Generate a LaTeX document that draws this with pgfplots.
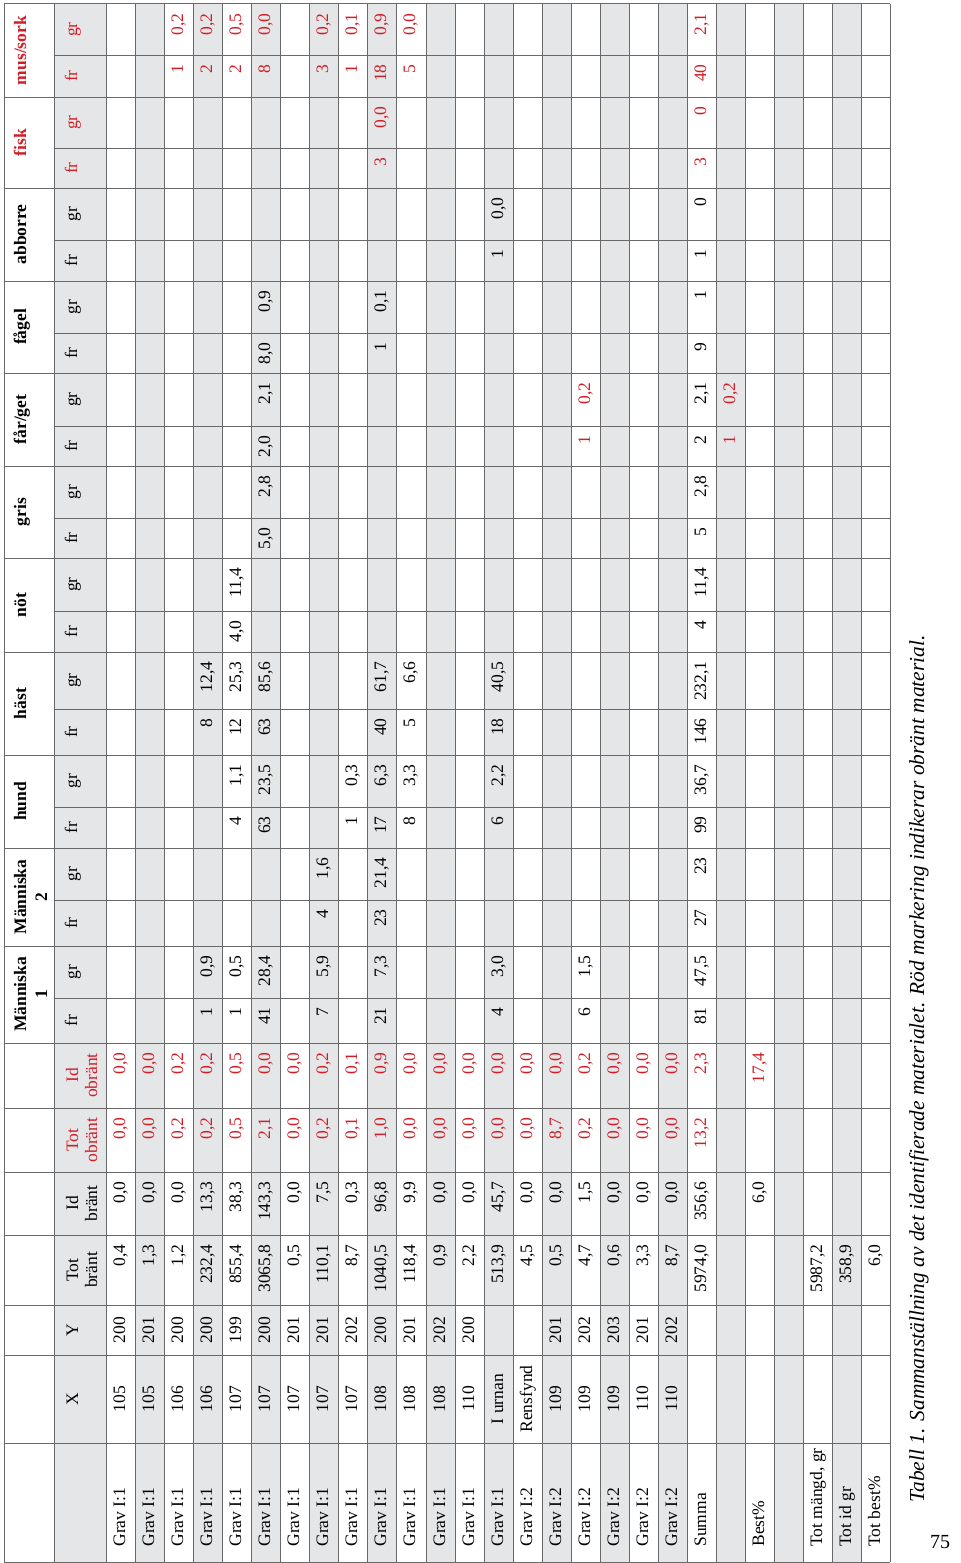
\documentclass[border=0pt]{standalone}
\usepackage{fontspec}
\setmainfont{Liberation Serif}
\usepackage{pgfplots}
\pgfplotsset{compat=1.18}
\usepackage{pgfplotstable}

\definecolor{cellgray}{RGB}{229,230,231}
\definecolor{rulec}{RGB}{105,105,105}
\definecolor{tred}{RGB}{208,30,40}

\newcommand\tf{\fontsize{8.75}{10}\selectfont}

\pgfplotsset{
  txt/.style={only marks, mark=none, point meta=explicit symbolic,
    nodes near coords,
    nodes near coords style={rotate=90, inner sep=0pt, anchor=#1, font=\tf}},
}

% row labels, left aligned (x = baseline, y = start of text)
\pgfplotstableread[col sep=semicolon]{
x;y;t
125;1547;Grav I:1
154;1547;Grav I:1
183;1547;Grav I:1
212;1547;Grav I:1
241;1547;Grav I:1
270;1547;Grav I:1
299;1547;Grav I:1
328;1547;Grav I:1
357;1547;Grav I:1
386;1547;Grav I:1
415;1547;Grav I:1
445;1547;Grav I:1
474;1547;Grav I:1
503;1547;Grav I:1
532;1547;Grav I:2
561;1547;Grav I:2
590;1547;Grav I:2
619;1547;Grav I:2
648;1547;Grav I:2
677;1547;Grav I:2
706;1547;Summa
764;1547;Best\%
822;1547;Tot mängd, gr
851;1547;Tot id gr
880;1547;Tot best\%
}\rowlabels

% X and Y columns, centred
\pgfplotstableread[col sep=semicolon]{
x;y;t
125;1399;105
154;1399;105
183;1399;106
212;1399;106
241;1399;107
270;1399;107
299;1399;107
328;1399;107
357;1399;107
386;1399;108
415;1399;108
445;1399;108
474;1399;110
503;1399;I urnan
532;1399;Rensfynd
561;1399;109
590;1399;109
619;1399;109
648;1399;110
677;1399;110
125;1330;200
154;1330;201
183;1330;200
212;1330;200
241;1330;199
270;1330;200
299;1330;201
328;1330;201
357;1330;202
386;1330;200
415;1330;201
445;1330;202
474;1330;200
561;1330;201
590;1330;202
619;1330;203
648;1330;201
677;1330;202
}\xycols

% black values, right aligned (y = end of text)
\pgfplotstableread[col sep=semicolon]{
x;y;t
125;1244;0,4
154;1244;1,3
183;1244;1,2
212;1244;232,4
241;1244;855,4
270;1244;3065,8
299;1244;0,5
328;1244;110,1
357;1244;8,7
386;1244;1040,5
415;1244;118,4
445;1244;0,9
474;1244;2,2
503;1244;513,9
532;1244;4,5
561;1244;0,5
590;1244;4,7
619;1244;0,6
648;1244;3,3
677;1244;8,7
706;1244;5974,0
822;1244;5987,2
851;1244;358,9
880;1244;6,0
125;1181;0,0
154;1181;0,0
183;1181;0,0
212;1181;13,3
241;1181;38,3
270;1181;143,3
299;1181;0,0
328;1181;7,5
357;1181;0,3
386;1181;96,8
415;1181;9,9
445;1181;0,0
474;1181;0,0
503;1181;45,7
532;1181;0,0
561;1181;0,0
590;1181;1,5
619;1181;0,0
648;1181;0,0
677;1181;0,0
706;1181;356,6
764;1181;6,0
212;1007;1
212;955;0,9
241;1007;1
241;955;0,5
270;1007;41
270;955;28,4
328;1007;7
328;955;5,9
386;1007;21
386;955;7,3
503;1007;4
503;955;3,0
590;1007;6
590;955;1,5
706;1007;81
706;955;47,5
328;909;4
328;857;1,6
386;909;23
386;857;21,4
706;909;27
706;857;23
241;816;4
241;764;1,1
270;816;63
270;764;23,5
357;816;1
357;764;0,3
386;816;17
386;764;6,3
415;816;8
415;764;3,3
503;816;6
503;764;2,2
706;816;99
706;764;36,7
212;718;8
212;661;12,4
241;718;12
241;661;25,3
270;718;63
270;661;85,6
386;718;40
386;661;61,7
415;718;5
415;661;6,6
503;718;18
503;661;40,5
706;718;146
706;661;232,1
241;620;4,0
241;567;11,4
706;620;4
706;567;11,4
270;527;5,0
270;475;2,8
706;527;5
706;475;2,8
270;435;2,0
270;382;2,1
706;435;2
706;382;2,1
270;342;8,0
270;290;0,9
386;342;1
386;290;0,1
706;342;9
706;290;1
503;249;1
503;197;0,0
706;249;1
706;197;0
}\blackvals

% red values (unburnt material), right aligned
\pgfplotstableread[col sep=semicolon]{
x;y;t
125;1117;0,0
154;1117;0,0
183;1117;0,2
212;1117;0,2
241;1117;0,5
270;1117;2,1
299;1117;0,0
328;1117;0,2
357;1117;0,1
386;1117;1,0
415;1117;0,0
445;1117;0,0
474;1117;0,0
503;1117;0,0
532;1117;0,0
561;1117;8,7
590;1117;0,2
619;1117;0,0
648;1117;0,0
677;1117;0,0
706;1117;13,2
125;1052;0,0
154;1052;0,0
183;1052;0,2
212;1052;0,2
241;1052;0,5
270;1052;0,0
299;1052;0,0
328;1052;0,2
357;1052;0,1
386;1052;0,9
415;1052;0,0
445;1052;0,0
474;1052;0,0
503;1052;0,0
532;1052;0,0
561;1052;0,0
590;1052;0,2
619;1052;0,0
648;1052;0,0
677;1052;0,0
706;1052;2,3
764;1052;17,4
590;435;1
590;382;0,2
735;435;1
735;382;0,2
386;157;3
386;106;0,0
706;157;3
706;106;0
183;64;1
183;13;0,2
212;64;2
212;13;0,2
241;64;2
241;13;0,5
270;64;8
270;13;0,0
328;64;3
328;13;0,2
357;64;1
357;13;0,1
386;64;18
386;13;0,9
415;64;5
415;13;0,0
706;64;40
706;13;2,1
}\redvals

% column headers
\pgfplotstableread[col sep=semicolon]{
x;y;t
26;994.5;Människa
47;994.5;1
26;897;Människa
47;897;2
26;801.5;hund
26;703.5;häst
26;605;nöt
26;512;gris
26;419.5;får/get
26;327;fågel
26;234.5;abborre
}\grouphead

\pgfplotstableread[col sep=semicolon]{
x;y;t
78;1399;X
78;1330;Y
78;1270;Tot
97;1270;bränt
78;1203.5;Id
97;1203.5;bränt
77;1020.5;fr
77;972;gr
77;923;fr
77;874;gr
77;827.5;fr
77;781;gr
77;732;fr
77;680.5;gr
77;631.5;fr
77;584.5;gr
77;538;fr
77;492;gr
77;446;fr
77;399.5;gr
77;353;fr
77;307;gr
77;260.5;fr
77;214;gr
}\subhead

\pgfplotstableread[col sep=semicolon]{
x;y;t
78;1140;Tot
97;1140;obränt
78;1075.5;Id
97;1075.5;obränt
77;168;fr
77;122.5;gr
77;76;fr
77;29.5;gr
}\subheadred

\begin{document}
\begin{tikzpicture}
\begin{axis}[
    width=480pt, height=781.5pt, scale only axis,
    xmin=0, xmax=960, ymin=0, ymax=1563, y dir=reverse,
    hide axis, clip=false,
    unbounded coords=jump,
]
% page frame for the bounding box
\addplot[draw=none, mark=none] coordinates {(0,0) (960,1563)};

% gray stripes
\addplot[fill=cellgray, draw=none, mark=none] coordinates {
(54,4) (106,4) (106,1562) (54,1562) (nan,nan)
(135,4) (164,4) (164,1562) (135,1562) (nan,nan)
(193,4) (222,4) (222,1562) (193,1562) (nan,nan)
(251,4) (280,4) (280,1562) (251,1562) (nan,nan)
(309,4) (338,4) (338,1562) (309,1562) (nan,nan)
(367,4) (396,4) (396,1562) (367,1562) (nan,nan)
(426,4) (455,4) (455,1562) (426,1562) (nan,nan)
(484,4) (513,4) (513,1562) (484,1562) (nan,nan)
(542,4) (571,4) (571,1562) (542,1562) (nan,nan)
(600,4) (629,4) (629,1562) (600,1562) (nan,nan)
(658,4) (687,4) (687,1562) (658,1562) (nan,nan)
(716,4) (745,4) (745,1562) (716,1562) (nan,nan)
(774,4) (803,4) (803,1562) (774,1562) (nan,nan)
(832,4) (861,4) (861,1562) (832,1562)
};

% rules between table rows
\addplot[draw=rulec, line width=0.5pt, mark=none] coordinates {
(4,4) (4,1562) (nan,nan) (54,4) (54,1562) (nan,nan)
(106,4) (106,1562) (nan,nan) (135,4) (135,1562) (nan,nan)
(164,4) (164,1562) (nan,nan) (193,4) (193,1562) (nan,nan)
(222,4) (222,1562) (nan,nan) (251,4) (251,1562) (nan,nan)
(280,4) (280,1562) (nan,nan) (309,4) (309,1562) (nan,nan)
(338,4) (338,1562) (nan,nan) (367,4) (367,1562) (nan,nan)
(396,4) (396,1562) (nan,nan) (426,4) (426,1562) (nan,nan)
(455,4) (455,1562) (nan,nan) (484,4) (484,1562) (nan,nan)
(513,4) (513,1562) (nan,nan) (542,4) (542,1562) (nan,nan)
(571,4) (571,1562) (nan,nan) (600,4) (600,1562) (nan,nan)
(629,4) (629,1562) (nan,nan) (658,4) (658,1562) (nan,nan)
(687,4) (687,1562) (nan,nan) (716,4) (716,1562) (nan,nan)
(745,4) (745,1562) (nan,nan) (774,4) (774,1562) (nan,nan)
(803,4) (803,1562) (nan,nan) (832,4) (832,1562) (nan,nan)
(861,4) (861,1562) (nan,nan) (890,4) (890,1562)
};
% rules between columns (full width, then fr/gr splits)
\addplot[draw=rulec, line width=0.5pt, mark=none] coordinates {
(4,4) (890,4) (nan,nan) (4,97) (890,97) (nan,nan)
(4,188) (890,188) (nan,nan) (4,281) (890,281) (nan,nan)
(4,373) (890,373) (nan,nan) (4,466) (890,466) (nan,nan)
(4,558) (890,558) (nan,nan) (4,652) (890,652) (nan,nan)
(4,755) (890,755) (nan,nan) (4,848) (890,848) (nan,nan)
(4,946) (890,946) (nan,nan) (4,1043) (890,1043) (nan,nan)
(4,1108) (890,1108) (nan,nan) (4,1172) (890,1172) (nan,nan)
(4,1235) (890,1235) (nan,nan) (4,1305) (890,1305) (nan,nan)
(4,1355) (890,1355) (nan,nan) (4,1443) (890,1443) (nan,nan)
(4,1562) (890,1562) (nan,nan)
(54,55) (890,55) (nan,nan) (54,148) (890,148) (nan,nan)
(54,240) (890,240) (nan,nan) (54,333) (890,333) (nan,nan)
(54,426) (890,426) (nan,nan) (54,518) (890,518) (nan,nan)
(54,611) (890,611) (nan,nan) (54,709) (890,709) (nan,nan)
(54,807) (890,807) (nan,nan) (54,900) (890,900) (nan,nan)
(54,998) (890,998)
};

% cell texts
\addplot[black, txt=base west] table[x=x, y=y, meta=t] {\rowlabels};
\addplot[black, txt=base] table[x=x, y=y, meta=t] {\xycols};
\addplot[black, txt=base east] table[x=x, y=y, meta=t] {\blackvals};
\addplot[tred, txt=base east, nodes near coords style={text=tred}] table[x=x, y=y, meta=t] {\redvals};
\addplot[black, txt=base, nodes near coords style={font=\tf\bfseries}] table[x=x, y=y, meta=t] {\grouphead};
\addplot[tred, txt=base, nodes near coords style={font=\tf\bfseries, text=tred}] coordinates {(26,142.5) [fisk] (26,50.5) [mus/sork]};
\addplot[black, txt=base] table[x=x, y=y, meta=t] {\subhead};
\addplot[tred, txt=base, nodes near coords style={text=tred}] table[x=x, y=y, meta=t] {\subheadred};

% caption and page number
\addplot[black, txt=base west, nodes near coords style={font=\fontsize{10.7}{12}\selectfont\itshape}] coordinates {(924,1503) [Tabell 1. Sammanställning av det identifierade materialet. Röd markering indikerar obränt material.]};
\addplot[black, only marks, mark=none, point meta=explicit symbolic, nodes near coords,
  nodes near coords style={anchor=center, inner sep=0pt, font=\fontsize{10}{12}\selectfont}] coordinates {(940,1542) [75]};
\end{axis}
\end{tikzpicture}
\end{document}
